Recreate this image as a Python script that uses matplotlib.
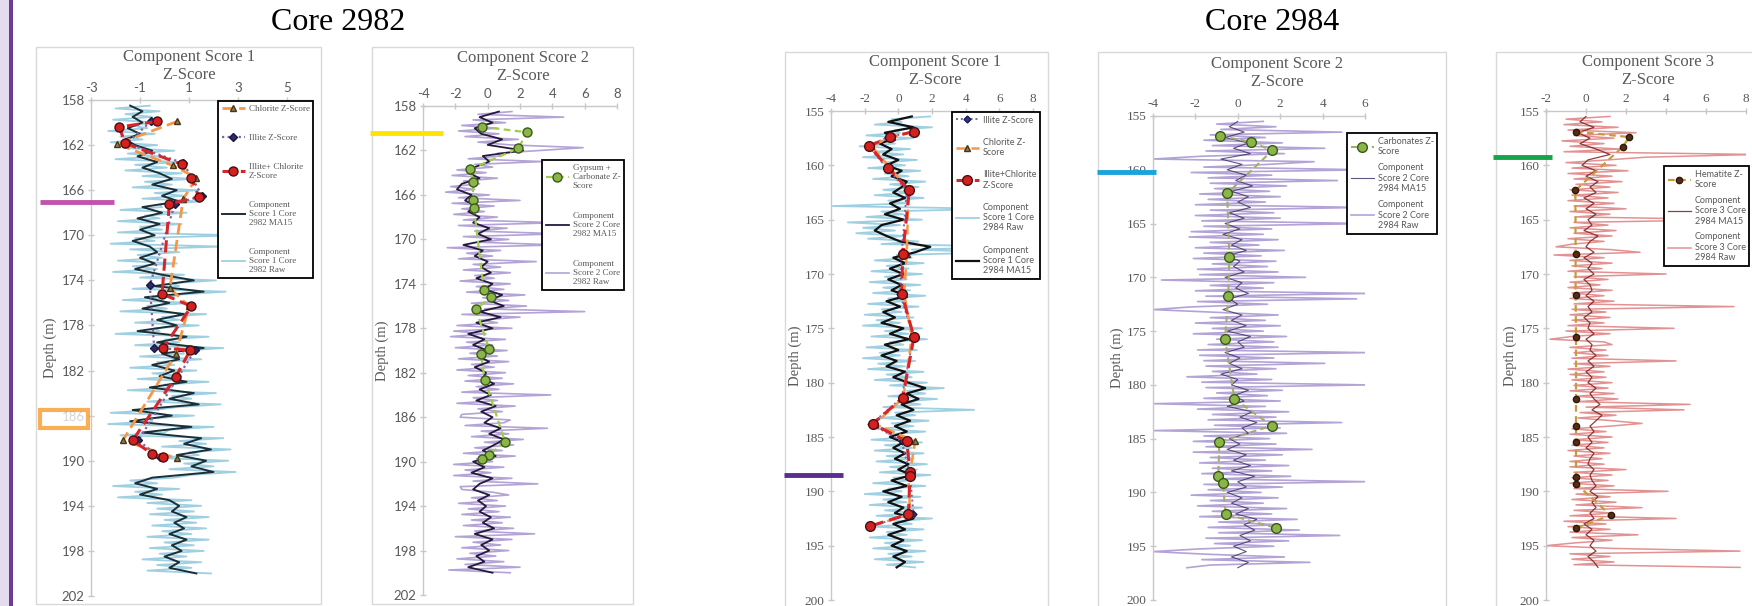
import numpy as np
import matplotlib.pyplot as plt
from matplotlib.lines import Line2D
from matplotlib.patches import Rectangle

plt.rcParams['axes.unicode_minus'] = False

W, H = 1752, 606

# ---------------- data: core 2982 ----------------
# component score 1, 2982 (moving average every 0.5 m, raw every 0.25 m)
ma_start_2982, ma_step = 158.5, 0.5
raw_step = 0.25
cs1_2982_ma = [-1.4, -0.9, -1.3, -0.9, -1.5, -1.0, -1.6, -1.2, -0.5, -1.1,
               -0.3, -0.9, -0.2, 0.3, -0.5, 0.5, -0.1, 0.6, -0.9, -0.1,
               -1.1, -0.2, -1.0, -0.4, -1.3, -0.6, -0.3, -1.0, -0.4, -1.2,
               -0.1, 1.2, -0.4, 1.6, -0.8, 0.2, -0.9, 0.8, -0.3, 0.5,
               -1.1, 0.9, -0.3, 1.6, -0.1, 0.6, -0.5, 0.4, -0.2, 0.9,
               -0.6, 1.2, 0.2, 1.4, -1.3, 0.3, -1.4, 1.1, -0.9, 1.5,
               0.8, 1.9, 0.5, 1.7, 1.1, 2.0, -0.5, -1.2, -0.3, -1.0,
               0.2, 0.6, 0.3, 0.9, 0.4, 0.8, 0.2, 0.9, 0.3, 0.7,
               0.0, 0.6, 0.2, 1.3]
cs1_2982_raw = [-0.6, -2.0, -0.2, -1.6, -0.5, -2.1, -0.3, -1.4,
                -0.7, -2.3, -0.4, -1.8, -0.9, -2.2, -0.3, -1.7,
                0.4, -1.5, -0.2, -2.0, 0.6, -1.2, 0.1, -1.6,
                0.7, -0.9, 1.2, -0.8, 0.3, -1.3, 1.4, -0.4,
                0.8, -0.9, 1.5, -0.2, -0.1, -1.8, 0.9, -0.8,
                -0.2, -1.9, 0.7, -1.0, -0.1, -1.9, 3.0, -1.2,
                -0.4, -2.2, 2.4, -1.4, 0.6, -1.1, -0.1, -1.9,
                0.5, -1.3, -0.3, -2.1, 0.8, -1.0, 2.1, 0.3,
                0.6, -1.3, 2.5, 0.7, 0.1, -1.7, 1.1, -0.7,
                0.1, -1.8, 1.7, -0.1, 0.6, -1.2, 1.4, -0.4,
                -0.2, -2.0, 1.8, 0.0, 0.6, -1.2, 2.4, 0.7,
                0.8, -1.0, 1.5, -0.3, 0.4, -1.4, 1.3, -0.5,
                0.7, -1.1, 1.8, 0.0, 0.3, -1.5, 2.1, 0.3,
                1.1, -0.7, 2.3, 0.5, -0.4, -2.2, 1.2, -0.6,
                -0.5, -2.3, 2.0, 0.2, 0.0, -1.8, 2.4, 0.6,
                1.7, -0.1, 2.7, 1.0, 1.4, -0.4, 2.6, 0.8,
                2.0, 0.2, 2.9, 1.1, 0.4, -1.4, -0.3, -2.1,
                0.6, -1.2, -0.1, -1.9, 1.1, -0.7, 1.5, -0.3,
                1.2, -0.6, 1.8, 0.0, 1.3, -0.5, 1.7, -0.1,
                1.1, -0.7, 1.8, 0.0, 1.2, -0.6, 1.6, -0.2,
                0.9, -0.9, 1.5, -0.3, 1.1, -0.7, 1.9]

chl_2982_depth = [159.9, 161.9, 163.8, 164.9, 166.8, 174.7, 176.3, 180.5, 188.2, 189.8]
chl_2982 = [0.52, -1.93, 0.33, 1.3, 0.76, 0.22, 1.0, 0.47, -1.7, 0.5]
ill_2982_depth = [159.9, 161.85, 163.6, 166.5, 167.2, 174.4, 180.0, 180.2, 188.2, 189.7]
ill_2982 = [-0.55, -1.55, 0.77, 1.54, 0.43, -0.6, -0.42, 1.24, -1.07, -0.19]
illchl_2982_depth = [159.9, 160.4, 161.85, 163.7, 164.9, 166.6, 167.2, 175.2,
                     176.3, 180.0, 180.2, 182.6, 188.2, 189.4, 189.7]
illchl_2982 = [-0.3, -1.85, -1.6, 0.7, 1.1, 1.4, 0.2, -0.1,
               1.1, -0.05, 1.05, 0.45, -1.3, -0.5, -0.05]

# component score 2, 2982
cs2_2982_ma = [0.7, -0.5, 0.3, -0.8, -0.4, 0.9, 0.0, 2.2,
               -0.3, 0.1, -0.8, -1.2, -0.5, -1.6, -1.9, -1.0,
               -1.4, -0.7, -1.2, -0.5, -0.9, 0.1, -0.6, 0.2,
               -1.5, -0.3, -0.8, 0.0, -0.4, 0.2, -0.7, 0.3,
               -0.2, 0.9, 0.1, 1.0, -0.5, 0.8, -0.7, 0.3,
               -1.2, -0.2, -0.9, 0.0, -0.6, 0.1, -0.8, -0.1,
               -0.3, 0.4, -0.5, 0.2, -0.7, 0.5, -0.4, 0.3,
               -0.2, 0.8, 0.1, 1.0, 0.4, -0.3, 0.5, -0.9,
               -0.2, -1.0, 0.3, -0.5, -0.9, 0.1, -0.6, -0.1,
               -0.5, 0.2, -0.3, 0.4, -0.8, 0.3, -0.4, 0.1,
               -0.7, -0.2, -1.2, 0.3]
cs2_2982_raw = [1.5, -0.6, 4.7, -0.9, 1.1, -1.6, 0.6, -1.8,
                0.7, -1.4, 1.9, -0.6, 1.4, 5.9, 3.3, 0.6,
                0.8, -1.2, 3.4, -0.8, 0.3, -1.9, -0.1, -2.2,
                0.6, -1.5, -0.5, -2.3, -0.8, -2.6, 0.1, -1.8,
                2.0, -2.2, 0.4, -1.6, -0.2, -2.1, 0.6, -1.5,
                4.3, -1.8, 1.2, -0.8, 4.5, -1.5, 1.3, -0.7,
                4.3, -2.5, 0.8, -1.3, 0.3, -1.8, 3.0, -0.9,
                0.8, -1.5, 1.4, -0.8, 0.4, -1.7, 1.4, -0.7,
                1.0, -1.3, 2.3, -0.3, 1.3, -1.0, 2.4, -0.2,
                6.0, -1.6, 2.0, -0.4, 0.6, -1.9, 1.5, -2.1,
                -0.1, -2.3, 1.1, -1.3, 0.3, -2.0, 1.2, -1.1,
                0.6, -1.8, 1.3, -1.0, 0.4, -1.9, 1.1, -1.2,
                0.9, -1.4, 1.6, -0.7, 0.7, -1.6, 3.9, -0.9,
                0.6, -1.9, 1.7, -0.6, 0.9, -1.6, -1.7, 1.4,
                1.0, -1.4, 3.7, -0.4, 1.3, -1.0, 2.2, -0.2,
                1.6, -0.8, 0.9, -1.5, 1.7, -0.7, 0.3, -2.1,
                1.0, -1.4, 0.2, -2.1, 1.5, -0.9, 3.1, -1.7,
                -1.6, 0.3, 1.3, -1.0, 0.6, -1.8, 1.1, -1.2,
                0.7, -1.6, 1.4, -1.0, 0.9, -1.5, 1.6, -0.8,
                2.9, -2.0, 1.5, -0.9, 0.8, -1.6, 1.3, -1.1,
                0.5, -1.9, 1.0, -1.4, 2.0, -2.4, 1.4]
gyp_2982_depth = [159.86, 160.37, 161.8, 163.7, 164.8, 166.46, 167.2, 174.6,
                  175.2, 176.3, 179.9, 180.3, 182.65, 188.2, 189.4, 189.8]
gyp_2982 = [-0.37, 2.45, 1.89, -1.09, -0.89, -0.93, -0.85, -0.23,
            0.19, -0.72, 0.1, -0.43, -0.17, 1.07, 0.1, -0.37]

# ---------------- data: core 2984 ----------------
ma_start_2984 = 155.5
cs1_2984_ma = [0.8, -0.6, 0.9, -0.8, -0.2, -1.1, -0.4, -0.9,
               0.0, -0.7, 0.2, -0.4, 0.5, 0.2, -0.3, 0.4,
               -0.5, 0.1, -0.8, 0.3, -1.0, -1.4, -0.7, 0.1,
               1.9, 1.0, -0.3, 0.4, -0.5, 0.3, -0.6, 0.2,
               -0.4, 0.5, -0.7, 0.1, -0.9, -0.2, -1.0, 0.3,
               -0.5, 0.6, -0.8, 0.0, -1.0, -0.1, -0.7, 0.4,
               -0.3, 0.6, 1.6, 0.5, 1.2, 0.2, 0.9, -0.1,
               0.7, -0.2, 0.5, -0.5, 0.3, -0.3, 0.4, -0.2,
               0.6, 0.0, 0.8, -0.4, 0.5, -0.9, 0.2, -0.6,
               0.3, -0.2, 0.9, -0.3, 0.4, -0.6, 0.3, -0.4,
               0.5, -0.3, 0.4, -0.1]
cs1_2984_raw = [1.9, -0.4, 0.2, -1.4, 2.0, -0.2, 0.1, -1.9,
                0.9, -1.0, -0.2, -2.3, 0.7, -1.5, 0.3, -2.1,
                1.1, -1.0, 0.4, -1.8, 1.3, -0.8, 0.6, -1.5,
                1.6, -0.5, 1.2, -0.9, 0.8, -1.4, 1.5, -0.6,
                0.6, -3.9, 5.8, -1.0, 0.3, -1.9, 1.4, -3.0,
                0.1, -2.1, -0.2, -2.5, 0.4, -1.8, 1.2, -1.0,
                7.5, 0.8, 6.0, -0.1, 0.8, -1.4, 1.5, -0.7,
                0.6, -1.6, 1.4, -0.8, 0.5, -1.7, 1.3, -0.9,
                0.7, -1.5, 1.6, -0.6, 0.4, -1.8, 1.2, -1.0,
                0.2, -2.0, 0.9, -1.3, 0.1, -2.1, 1.4, -0.8,
                0.6, -1.6, 1.7, -0.5, 0.3, -1.9, 1.1, -1.1,
                0.1, -2.1, 1.0, -1.2, 0.4, -1.8, 1.5, -0.7,
                0.8, -1.4, 1.7, -0.5, 2.7, 0.5, 1.6, -0.6,
                2.3, 0.1, 1.3, -0.9, 4.5, -0.2, 1.0, -1.2,
                1.8, -0.4, 0.9, -1.3, 1.6, -0.6, 0.6, -1.6,
                1.4, -0.8, 0.8, -1.4, 1.5, -0.7, 0.9, -1.3,
                1.7, -0.5, 1.1, -1.1, 1.9, -0.3, 0.7, -1.5,
                1.6, -0.6, 0.2, -2.0, 1.3, -0.9, 0.5, -1.7,
                1.4, -0.8, 0.9, -1.3, 2.0, -0.2, 0.8, -1.4,
                1.5, -0.7, 0.5, -1.7, 1.4, -0.8, 0.7, -1.5,
                1.6, -0.6, 0.8, -1.4, 1.5, -0.7, 1.0]
min_2984_depth = [156.9, 157.4, 158.2, 160.2, 162.3, 168.2, 171.8, 175.8,
                  181.4, 183.8, 185.4, 188.2, 188.6, 192.1, 193.2]
ill_2984 = [0.9, -0.6, -1.8, -0.7, 0.5, 0.2, 0.1, 0.9,
            0.2, -1.6, 0.2, 0.65, 0.7, 0.9, -1.7]
chl_2984 = [0.8, -0.4, -1.6, -0.5, 0.6, 0.5, 0.35, 0.8,
            0.3, -1.4, 1.0, 0.7, 0.6, 0.7, -1.6]
illchl_2984 = [0.95, -0.5, -1.72, -0.63, 0.65, 0.26, 0.2, 0.93,
               0.26, -1.52, 0.5, 0.69, 0.69, 0.6, -1.68]

cs2_2984_ma = [0.0, -0.4, 0.3, -0.6, 0.5, -0.2, 0.6, -0.8,
               0.2, -0.5, 0.4, -0.1, 0.7, -0.3, 0.5, 0.0,
               0.6, -0.4, 0.3, -0.6, 0.1, -0.7, 0.2, -0.3,
               0.4, -0.5, 0.1, -0.2, 0.3, -0.6, 0.2, -0.1,
               0.5, -0.4, 0.0, -0.7, 0.2, -0.3, 0.4, -0.5,
               0.6, 0.0, 0.3, -0.6, 0.1, -0.4, 0.2, -0.8,
               0.0, -0.3, 0.5, -0.2, 0.3, -0.5, 0.7, 0.1,
               0.9, 0.2, 0.5, -0.4, 0.1, -0.5, 0.4, -0.2,
               0.6, -0.3, 0.8, 0.0, 0.4, -0.5, 0.2, -0.3,
               0.5, -0.1, 0.9, 0.3, 0.8, 0.1, 0.6, -0.2,
               0.4, -0.3, 0.5, 0.0]
cs2_2984_raw = [1.2, -1.0, 1.8, -0.8, 4.9, -1.3, 1.3, -1.6,
                2.1, -1.2, 4.1, -1.5, 2.2, -1.8, -4.0, 3.6,
                1.4, -1.6, 6.1, -2.2, 1.6, -1.4, 4.7, -1.3,
                2.3, -1.1, 1.5, -1.8, 2.0, -1.4, 1.3, -2.0,
                5.9, -1.3, 1.7, -2.0, 2.0, -1.7, 6.1, -1.6,
                1.6, -2.2, 1.2, -2.3, 1.9, -1.3, 1.0, -2.0,
                2.2, -1.6, 1.1, -2.1, 1.8, -1.2, 1.4, -1.9,
                1.9, -1.8, 3.2, -3.6, 1.7, -1.3, 1.2, -2.0,
                6.1, -1.5, 5.6, -1.9, 1.4, -2.2, -4.0, -1.1,
                1.9, -1.3, 1.3, -2.0, 2.0, -1.2, 1.2, -2.1,
                2.3, -1.0, 1.7, -1.4, 1.9, -1.9, 6.1, -1.8,
                1.7, -1.6, 4.1, -1.5, 1.8, -1.2, 0.9, -2.4,
                1.6, -1.7, 6.1, -1.5, 2.1, -1.0, 1.4, -1.6,
                2.0, -4.0, 1.3, -1.9, 2.4, -1.2, 1.8, -1.4,
                4.9, -1.1, 2.0, -4.0, 2.3, -1.6, 1.5, -2.1,
                1.8, -1.5, 3.5, -2.1, 2.1, -1.3, 1.3, -1.8,
                2.4, -1.2, 1.6, -1.7, 2.5, -1.1, 6.1, -1.6,
                2.1, -1.4, 1.1, -2.2, 1.9, -1.3, 1.2, -1.9,
                2.3, -1.2, 1.6, -1.8, 2.8, -0.9, 2.0, -1.4,
                2.9, -0.9, 4.8, -1.5, 2.4, -1.1, 1.7, -1.8,
                -4.0, -1.4, 2.2, -1.7, 3.4, -1.3, -2.4]
carb_2984_depth = [156.86, 157.4, 158.2, 162.2, 168.1, 171.7, 175.7,
                   181.3, 183.8, 185.3, 188.5, 189.1, 192.0, 193.3]
carb_2984 = [-0.84, 0.62, 1.63, -0.5, -0.4, -0.45, -0.6,
             -0.16, 1.6, -0.87, -0.92, -0.71, -0.57, 1.8]

cs3_2984_ma = [0.0, -0.3, 0.4, -0.4, 0.2, -0.3, 0.5, 1.2,
               0.1, -0.2, 0.5, 0.0, 0.6, 0.2, 0.5, -0.1,
               0.4, 0.0, 0.5, 0.1, 0.3, -0.1, 0.6, 0.2,
               0.0, 0.4, -0.1, 0.3, 0.1, 0.4, -0.1, 0.2,
               0.3, 0.0, 0.4, 0.1, 0.3, -0.1, 0.2, 0.1,
               0.4, 0.0, 0.3, 0.2, 0.5, 0.1, 0.4, 0.0,
               0.3, 0.1, 0.5, 0.2, 0.4, 0.7, 0.3, 0.8,
               0.5, 0.2, 0.4, 0.1, 0.3, 0.0, 0.4, 0.2,
               0.1, 0.4, 0.2, 0.3, 0.5, 0.2, 0.6, 0.3,
               0.5, 0.2, 0.4, -0.1, 0.3, 0.0, 0.4, 0.2,
               0.5, 0.1, 0.4, 0.6]
cs3_2984_raw = [1.2, -1.0, 0.8, -1.1, 1.6, -0.9, 2.5, -0.6,
                1.4, -1.2, 0.9, -0.8, 1.7, -1.1, 8.5, 3.0,
                1.1, -1.0, 1.5, -0.7, 2.1, -0.9, 1.3, -0.6,
                1.8, -0.5, 1.2, -0.8, 1.6, -0.7, 1.1, -0.9,
                1.4, -0.6, 2.0, -0.8, 1.2, -0.5, 7.7, -0.6,
                1.1, -0.8, 1.5, -0.6, 1.3, -0.9, 0.9, -0.7,
                -1.5, 1.2, 2.7, -1.6, 0.9, -0.8, 1.3, -0.7,
                0.8, -0.9, 4.0, -0.6, 1.1, -0.8, 0.7, -0.9,
                1.3, -0.7, 0.9, -0.8, 1.4, -0.6, 7.4, -0.7,
                1.0, -0.8, 1.2, -0.7, 0.9, -0.9, 4.4, -1.0,
                1.2, -0.7, -1.8, 0.9, 1.3, -0.8, 1.0, -0.6,
                1.1, -0.7, 4.5, -0.6, 1.2, -0.9, 0.9, -0.8,
                1.0, -0.7, 1.3, -0.6, 1.1, -0.8, 1.4, -0.5,
                1.6, -0.4, 5.2, 0.0, 4.9, -0.3, 1.5, -0.4,
                1.3, 2.8, 1.2, -0.7, 1.0, -0.8, 1.3, -0.6,
                1.1, -0.7, 0.9, -0.9, 1.2, -0.6, 0.8, -0.8,
                0.9, -0.8, 2.0, -0.6, 1.3, -0.7, 1.1, -0.8,
                1.4, -0.6, 4.1, -0.5, 1.2, -0.7, 1.5, -0.5,
                2.8, -0.6, 1.3, -0.8, 4.5, -1.1, 1.0, -0.9,
                1.2, -0.8, 2.6, -0.7, 1.3, -0.6, -2.0, 1.3,
                7.7, -0.8, 1.2, -0.7, 1.4, -0.6, 7.7]
hem_2984_depth = [156.9, 157.4, 158.3, 162.3, 168.2, 171.9, 175.8,
                  181.5, 184.0, 185.5, 188.7, 189.3, 192.2, 193.4]
hem_2984 = [-0.5, 2.17, 1.83, -0.53, -0.52, -0.52, -0.5,
            -0.5, -0.5, -0.5, -0.5, -0.5, 1.23, -0.5]


def depths(start, step, values):
    return start + step * np.arange(len(values))


fig = plt.figure(figsize=(W / 100, H / 100), dpi=100)
fig.patch.set_facecolor('white')

GRAY = '#595959'
SERIF = 'Liberation Serif'
SANS = 'Lato'


def px_axes(x0, y0, x1, y1):
    return fig.add_axes([x0 / W, 1 - y1 / H, (x1 - x0) / W, (y1 - y0) / H])


def frame(x0, y0, x1, y1):
    fig.add_artist(Rectangle((x0 / W, 1 - y1 / H), (x1 - x0) / W, (y1 - y0) / H,
                             transform=fig.transFigure, fill=False,
                             edgecolor='#d9d9d9', lw=1.0))


def setup(ax, xlim, xticks, ylim, yticks, family, title, title_xy, pad):
    ax.set_xlim(*xlim)
    ax.set_ylim(*ylim)
    ax.set_xticks(xticks)
    ax.set_yticks(yticks)
    ax.xaxis.tick_top()
    ax.patch.set_alpha(0)
    for s in ['right', 'bottom']:
        ax.spines[s].set_visible(False)
    for s in ['left', 'top']:
        ax.spines[s].set_color('#c8c8c8')
        ax.spines[s].set_linewidth(1.0)
    ax.tick_params(axis='both', direction='inout', colors='#c8c8c8',
                   labelcolor=GRAY, labelsize=9.5, length=5, width=1, pad=2)
    for lab in ax.get_xticklabels() + ax.get_yticklabels():
        lab.set_family(family)
    ax.set_ylabel('Depth (m)', family=SERIF, color=GRAY, fontsize=10.5, labelpad=pad)
    fig.text(title_xy[0] / W, 1 - title_xy[1] / H, title, family=SERIF,
             color=GRAY, fontsize=12, ha='center', va='center', linespacing=1.15)


def legend(ax, handles, labels, x0, y0, family, spacing):
    leg = ax.legend(handles, labels, loc='upper left',
                    bbox_to_anchor=(x0 / W, 1 - y0 / H), bbox_transform=fig.transFigure,
                    borderaxespad=0, fancybox=False, edgecolor='black', framealpha=1,
                    prop={'family': family, 'size': 6.5}, labelcolor=GRAY,
                    labelspacing=spacing, handlelength=2.6, handletextpad=0.4,
                    borderpad=0.4)
    leg.get_frame().set_linewidth(1.3)
    leg.set_zorder(10)
    return leg


# colours
ORANGE = '#f79646'
PURPLE_DOT = '#8064a2'
RED = '#d7262b'
LIGHT_BLUE = '#9fd0e2'
MA_DARK = '#1b2f38'
LAV = '#b3a3d6'
LAV_DARK = '#251a3d'
GREEN_FACE = '#8ab548'
GREEN_EDGE = '#3b5a16'
PINK = '#e29292'

# ---------------- panel 1: core 2982 score 1 ----------------
frame(36, 47, 321, 604)
ax1 = px_axes(91, 100, 311.5, 596)
d_ma = depths(ma_start_2982, ma_step, cs1_2982_ma)
d_raw = depths(ma_start_2982, raw_step, cs1_2982_raw)
raw1, = ax1.plot(cs1_2982_raw, d_raw, color=LIGHT_BLUE, lw=1.3, zorder=1)
ma1, = ax1.plot(cs1_2982_ma, d_ma, color=MA_DARK, lw=1.4, zorder=2)
chl1, = ax1.plot(chl_2982, chl_2982_depth, color=ORANGE, lw=2, ls=(0, (4, 2)),
                 marker='^', ms=5, mfc='#8c7b55', mec='#4a3510', zorder=3)
ill1, = ax1.plot(ill_2982, ill_2982_depth, color=PURPLE_DOT, lw=1.6, ls=(0, (1, 1.5)),
                 marker='D', ms=4, mfc='#2b2a6b', mec='#1a1840', zorder=4)
ic1, = ax1.plot(illchl_2982, illchl_2982_depth, color=RED, lw=2.2, ls=(0, (4, 2)),
                marker='o', ms=6.5, mfc='#d42020', mec='#4a1010', zorder=5)
setup(ax1, (-3, 6), [-3, -1, 1, 3, 5], (202, 158), np.arange(158, 203, 4), SANS,
      'Component Score 1\nZ-Score', (189, 66), 3)
legend(ax1, [chl1, ill1, ic1, ma1, raw1],
       ['Chlorite Z-Score', 'Illite Z-Score', 'Illite+ Chlorite\nZ-Score',
        'Component\nScore 1 Core\n2982 MA15', 'Component\nScore 1 Core\n2982 Raw'],
       218, 101, SERIF, 2.3)

# ---------------- panel 2: core 2982 score 2 ----------------
frame(372, 47, 633, 604)
ax2 = px_axes(423, 106, 617, 595)
d_ma = depths(ma_start_2982, ma_step, cs2_2982_ma)
d_raw = depths(ma_start_2982, raw_step, cs2_2982_raw)
raw2, = ax2.plot(cs2_2982_raw, d_raw, color=LAV, lw=1.2, zorder=1)
ma2, = ax2.plot(cs2_2982_ma, d_ma, color=LAV_DARK, lw=1.3, zorder=2)
gyp2, = ax2.plot(gyp_2982, gyp_2982_depth, color='#9fcf45', lw=1.6, ls=(0, (3, 2)),
                 marker='o', ms=6.5, mfc=GREEN_FACE, mec=GREEN_EDGE, zorder=3)
setup(ax2, (-4, 8), np.arange(-4, 9, 2), (202, 158), np.arange(158, 203, 4), SANS,
      'Component Score 2\nZ-Score', (523, 67), 3)
legend(ax2, [gyp2, ma2, raw2],
       ['Gypsum +\nCarbonate Z-\nScore', 'Component\nScore 2 Core\n2982 MA15',
        'Component\nScore 2 Core\n2982 Raw'],
       542, 160, SERIF, 2.4)

# ---------------- panel 3: core 2984 score 1 ----------------
frame(785, 52, 1048, 620)
ax3 = px_axes(831, 111, 1033, 600)
d_ma = depths(ma_start_2984, ma_step, cs1_2984_ma)
d_raw = depths(ma_start_2984, raw_step, cs1_2984_raw)
raw3, = ax3.plot(cs1_2984_raw, d_raw, color=LIGHT_BLUE, lw=1.3, zorder=1)
ma3, = ax3.plot(cs1_2984_ma, d_ma, color='#111111', lw=1.6, zorder=2)
ill3, = ax3.plot(ill_2984, min_2984_depth, color=PURPLE_DOT, lw=1.4, ls=(0, (1, 1.5)),
                 marker='D', ms=3.5, mfc='#2b3a8b', mec='#1a1840', zorder=3)
chl3, = ax3.plot(chl_2984, min_2984_depth, color=ORANGE, lw=1.8, ls=(0, (4, 2)),
                 marker='^', ms=5, mfc='#8c7b55', mec='#4a3510', zorder=4)
ic3, = ax3.plot(illchl_2984, min_2984_depth, color=RED, lw=2.2, ls=(0, (4, 2)),
                marker='o', ms=7, mfc='#d42020', mec='#4a1010', zorder=5)
setup(ax3, (-4, 8), np.arange(-4, 9, 2), (200, 155), np.arange(155, 201, 5), SERIF,
      'Component Score 1\nZ-Score', (935, 71), 2)
legend(ax3, [ill3, chl3, ic3, raw3, ma3],
       ['Illite Z-Score', 'Chlorite Z-\nScore', 'Illite+Chlorite\nZ-Score',
        'Component\nScore 1 Core\n2984 Raw', 'Component\nScore 1 Core\n2984 MA15'],
       952, 112, SANS, 1.45)

# ---------------- panel 4: core 2984 score 2 ----------------
frame(1098, 52, 1446, 620)
ax4 = px_axes(1153, 116, 1365, 600)
d_ma = depths(ma_start_2984, ma_step, cs2_2984_ma)
d_raw = depths(ma_start_2984, raw_step, cs2_2984_raw)
raw4, = ax4.plot(cs2_2984_raw, d_raw, color=LAV, lw=1.2, zorder=1)
ma4, = ax4.plot(cs2_2984_ma, d_ma, color='#3b2a5e', lw=0.8, alpha=0.8, zorder=2)
carb4, = ax4.plot(carb_2984, carb_2984_depth, color='#a4ad6a', lw=1.5, ls=(0, (3, 2)),
                  marker='o', ms=7, mfc=GREEN_FACE, mec=GREEN_EDGE, zorder=3)
setup(ax4, (-4, 6), np.arange(-4, 7, 2), (200, 155), np.arange(155, 201, 5), SERIF,
      'Component Score 2\nZ-Score', (1277, 73), 2)
legend(ax4, [carb4, ma4, raw4],
       ['Carbonates Z-\nScore', 'Component\nScore 2 Core\n2984 MA15',
        'Component\nScore 2 Core\n2984 Raw'],
       1347, 133, SANS, 0.8)

# ---------------- panel 5: core 2984 score 3 ----------------
frame(1496, 52, 1780, 620)
ax5 = px_axes(1546, 111, 1746, 600)
d_ma = depths(ma_start_2984, ma_step, cs3_2984_ma)
d_raw = depths(ma_start_2984, raw_step, cs3_2984_raw)
raw5, = ax5.plot(cs3_2984_raw, d_raw, color=PINK, lw=1.1, zorder=1)
ma5, = ax5.plot(cs3_2984_ma, d_ma, color='#7a1c1c', lw=0.9, alpha=0.85, zorder=2)
hem5, = ax5.plot(hem_2984, hem_2984_depth, color='#c99a3a', lw=1.6, ls=(0, (3, 2)),
                 marker='o', ms=4.5, mfc='#5a2a14', mec='#2a1a08', zorder=3)
setup(ax5, (-2, 8), np.arange(-2, 9, 2), (200, 155), np.arange(155, 201, 5), SERIF,
      'Component Score 3\nZ-Score', (1648, 71), 2)
legend(ax5, [hem5, ma5, raw5],
       ['Hematite Z-\nScore', 'Component\nScore 3 Core\n2984 MA15',
        'Component\nScore 3 Core\n2984 Raw'],
       1664, 166, SANS, 0.75)

# ---------------- headings and slide decorations ----------------
fig.text(338 / W, 1 - 22 / H, 'Core 2982', family=SERIF, fontsize=23,
         ha='center', va='center', color='black')
fig.text(1272 / W, 1 - 22 / H, 'Core 2984', family=SERIF, fontsize=23,
         ha='center', va='center', color='black')

fig.add_artist(Rectangle((0, 0), 9 / W, 1, transform=fig.transFigure,
                         color='#e4dbef', lw=0))
fig.add_artist(Rectangle((9 / W, 0), 4 / W, 1, transform=fig.transFigure,
                         color='#6a3d9a', lw=0))


def mark(x0, x1, y, color):
    fig.add_artist(Line2D([x0 / W, x1 / W], [1 - y / H, 1 - y / H],
                          transform=fig.transFigure, color=color, lw=3.5,
                          solid_capstyle='butt', zorder=20))


mark(40, 114, 202, '#c053ad')
mark(370, 443, 133, '#ffe400')
mark(784, 843, 475, '#5b2d90')
mark(1097, 1156, 172, '#1aa3dc')
mark(1493, 1552, 157, '#16a34a')
fig.add_artist(Rectangle((40 / W, 1 - 428 / H), 48 / W, 18 / H,
                         transform=fig.transFigure, facecolor='white', alpha=0.75,
                         edgecolor='#f7941d', lw=3, zorder=20))

fig.savefig('out.png', dpi=100)
